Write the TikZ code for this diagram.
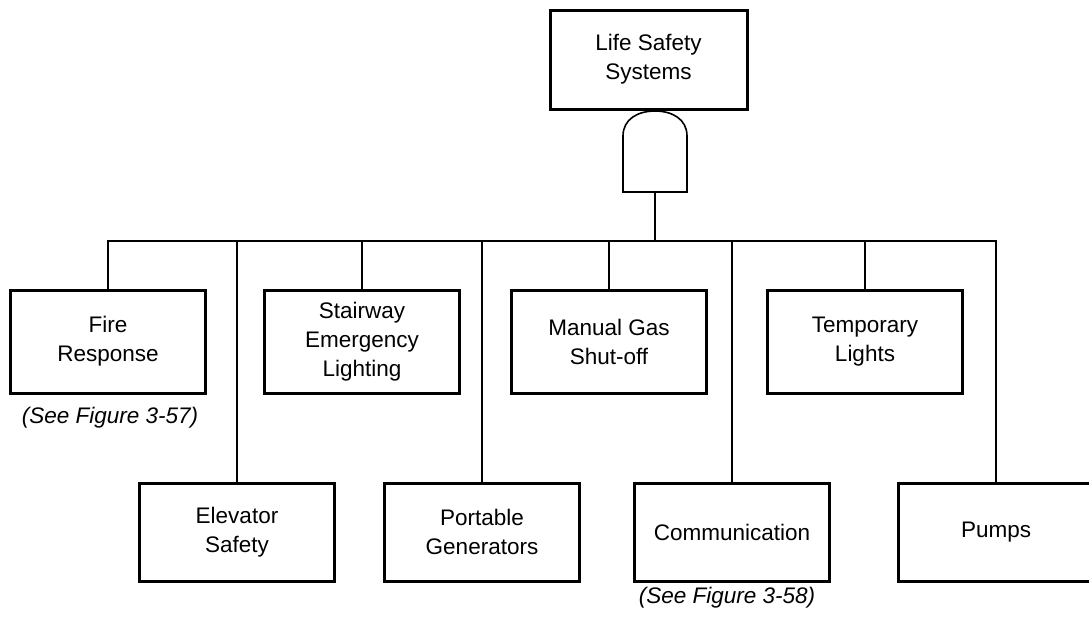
\documentclass[tikz,border=0pt]{standalone}
\usepackage{fontspec}
\setmainfont{Liberation Sans}
\begin{document}
\begin{tikzpicture}[x=1pt,y=-1pt,
  evbox/.style={draw=black, line width=3pt, fill=white, inner sep=0pt,
    minimum width=195pt, minimum height=100pt, align=center,
    font=\fontsize{22.5}{29}\selectfont},
  conn/.style={draw=black, line width=1.5pt},
  note/.style={font=\fontsize{22.5}{29}\selectfont\itshape, inner sep=0pt}]
\useasboundingbox (0,0) rectangle (1089,616);
% top event
\node[evbox, minimum width=197pt, minimum height=99pt] (top) at (648.5,59.5) {Life Safety\\Systems};
% AND gate
\draw[line width=1.6pt, fill=white] (623,192) -- (623,136)
  .. controls (623,119) and (638,111) .. (655,111)
  .. controls (672,111) and (687,119) .. (687,136) -- (687,192) -- cycle;
\coordinate (gate) at (655,192);
\coordinate (bus) at (655,241);
% row 1
\node[evbox, minimum height=103pt] (fire) at (108,341.5) {Fire\\Response};
\node[evbox, minimum height=103pt] (stair) at (362,341.5) {Stairway\\Emergency\\Lighting};
\node[evbox, minimum height=103pt] (gas) at (609,341.5) {Manual Gas\\Shut-off};
\node[evbox, minimum height=103pt] (temp) at (865,341.5) {Temporary\\Lights};
% row 2
\node[evbox, minimum height=98pt] (elev) at (237,532) {Elevator\\Safety};
\node[evbox, minimum height=98pt] (port) at (482,532) {Portable\\Generators};
\node[evbox, minimum height=98pt] (comm) at (732,532) {Communication};
\node[evbox, minimum height=98pt] (pump) at (996,532) {Pumps};
% notes
\node[note] (n1) at (110,418) {(See Figure 3-57)};
\node[note] (n2) at (727,598) {(See Figure 3-58)};
% connectors
\draw[conn] (gate) -- (bus);
\foreach \n in {fire,stair,gas,temp,elev,port,comm,pump}
  \draw[conn] (\n.north) |- (bus);
\end{tikzpicture}
\end{document}
